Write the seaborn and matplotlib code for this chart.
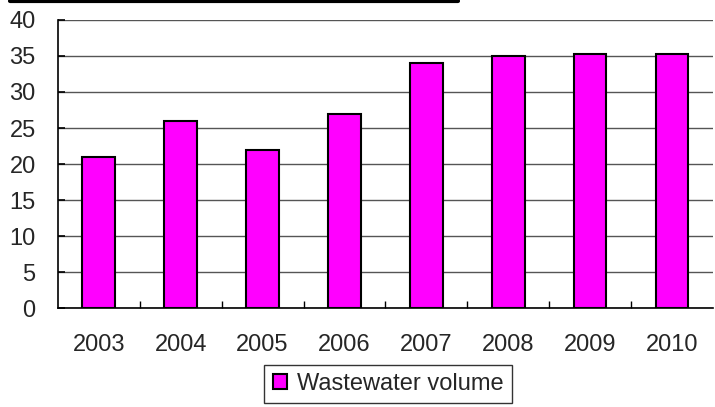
import matplotlib
matplotlib.use("Agg")
import matplotlib.pyplot as plt
from matplotlib.lines import Line2D
import seaborn as sns
import pandas as pd

years = ["2003", "2004", "2005", "2006", "2007", "2008", "2009", "2010"]
volume = [21, 26, 22, 27, 34, 35, 35.3, 35.3]
series_name = "Wastewater volume"

sns.set_style("white")
plt.rcParams["font.family"] = ["Liberation Sans", "DejaVu Sans"]

df = pd.DataFrame({"year": years, "volume": volume})

fig = plt.figure(figsize=(7.15, 4.07), dpi=100)
ax = fig.add_axes([0.081, 0.243, 0.916, 0.708])

sns.barplot(data=df, x="year", y="volume", color="#FF00FF", saturation=1,
            edgecolor="black", linewidth=1.5, width=0.4, label=series_name, ax=ax)

ax.set_xlim(-0.5, len(years) - 0.5)
ax.set_ylim(0, 40)
ax.set_yticks(range(0, 41, 5))
ax.yaxis.grid(True, color="#555555", linewidth=1)
ax.set_axisbelow(True)
ax.set_xlabel("")
ax.set_ylabel("")

for s in ["top", "right"]:
    ax.spines[s].set_visible(False)
for s in ["left", "bottom"]:
    ax.spines[s].set_color("black")
    ax.spines[s].set_linewidth(1.2)

ax.tick_params(axis="y", labelsize=17, direction="in", length=5, width=1.2,
               color="black", pad=16, left=True)
ax.tick_params(axis="x", labelsize=17, length=0, pad=19)
# small category separator ticks inside the axis
ax.set_xticks([i + 0.5 for i in range(len(years) - 1)], minor=True)
ax.tick_params(axis="x", which="minor", direction="in", length=5, width=1, color="black", bottom=True)

leg = ax.legend(loc="center", bbox_to_anchor=(0.543, 0.056), bbox_transform=fig.transFigure,
                frameon=True, fontsize=17, handlelength=0.6, handleheight=0.6,
                handletextpad=0.45, borderpad=0.35, fancybox=False)
leg.get_frame().set_edgecolor("black")
leg.get_frame().set_linewidth(1)

# partially visible title underline at the top
fig.add_artist(Line2D([0.014, 0.64], [0.997, 0.997], color="black", linewidth=3,
                      transform=fig.transFigure))

fig.savefig("out.png", dpi=100)
